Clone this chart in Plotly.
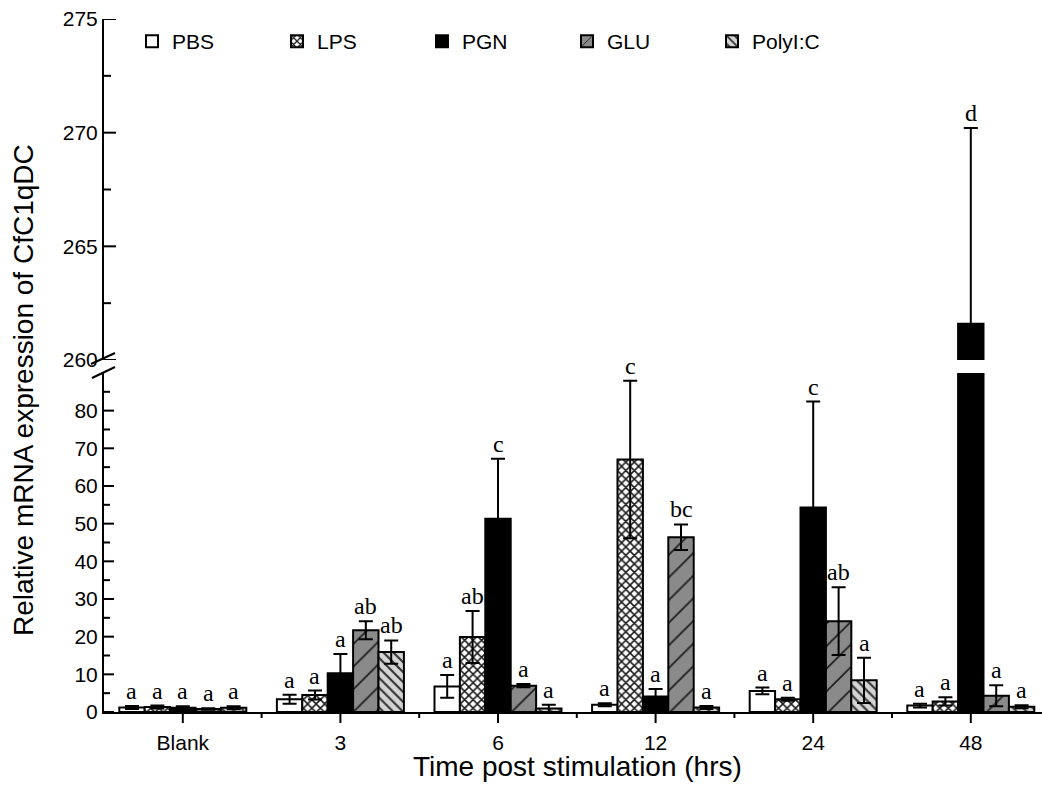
import plotly.graph_objects as go

categories = ["Blank", "3", "6", "12", "24", "48"]
series_names = ["PBS", "LPS", "PGN", "GLU", "PolyI:C"]

pbs = [1.2, 3.4, 6.8, 1.9, 5.6, 1.7]
lps = [1.3, 4.5, 19.9, 67.0, 3.4, 2.8]
pgn = [1.1, 10.3, 51.3, 4.1, 54.3, 261.6]
glu = [0.8, 21.7, 7.0, 46.4, 24.1, 4.3]
polyic = [1.1, 15.9, 0.9, 1.2, 8.4, 1.4]

pbs_err = [0.4, 1.2, 3.0, 0.4, 0.9, 0.5]
lps_err = [0.4, 1.2, 6.9, 20.9, 0.4, 1.1]
pgn_err = [0.4, 5.1, 15.9, 2.0, 28.1, 8.6]
glu_err = [0.2, 2.4, 0.4, 3.4, 9.0, 2.8]
polyic_err = [0.4, 3.1, 1.0, 0.4, 6.0, 0.4]

pbs_letters = ["a", "a", "a", "a", "a", "a"]
lps_letters = ["a", "a", "ab", "c", "a", "a"]
pgn_letters = ["a", "a", "c", "a", "c", "d"]
glu_letters = ["a", "ab", "a", "bc", "ab", "a"]
polyic_letters = ["a", "ab", "a", "a", "a", "a"]

lower_range = [0, 89.99]
upper_range = [260, 275]
lower_major = [0, 10, 20, 30, 40, 50, 60, 70, 80]
lower_minor = [5, 15, 25, 35, 45, 55, 65, 75, 85]
upper_major = [260, 265, 270, 275]
upper_minor = [262.5, 267.5, 272.5]
x_minor = [0.5, 1.5, 2.5, 3.5, 4.5]

values = [pbs, lps, pgn, glu, polyic]
errors = [pbs_err, lps_err, pgn_err, glu_err, polyic_err]
letters = [pbs_letters, lps_letters, pgn_letters, glu_letters, polyic_letters]

styles = [
    dict(color="white", pattern=None),
    dict(color="white", pattern=dict(shape="x", fgcolor="#1a1a1a", bgcolor="white", size=6, solidity=0.45, fillmode="replace")),
    dict(color="black", pattern=None),
    dict(color="#8a8a8a", pattern=dict(shape="/", fgcolor="#1a1a1a", bgcolor="#8a8a8a", size=16, solidity=0.1, fillmode="replace")),
    dict(color="#d4d4d4", pattern=dict(shape="\\", fgcolor="#333333", bgcolor="#d4d4d4", size=7, solidity=0.3, fillmode="replace")),
]

W, H = 1042, 786
ML, MR, MT, MB = 104, 0, 19, 60
PW, PH = W - ML - MR, H - MT - MB
X_PX_PER_UNIT = 157.6

def py(pix):
    return (H - MB - pix) / PH

def px(pix):
    return (pix - ML) / PW

strip_dom = [0, py(712)]
lower_dom = [py(712), py(373)]
upper_dom = [py(360), 1]

x = list(range(len(categories)))
xr_ = [-0.5, -0.5 + PW / X_PX_PER_UNIT]
fig = go.Figure()

for yax, xax, show in [("y", "x", True), ("y2", "x2", False)]:
    for name, v, e, st in zip(series_names, values, errors, styles):
        marker = dict(color=st["color"], line=dict(color="black", width=2))
        if st["pattern"] is not None:
            marker["pattern"] = st["pattern"]
        fig.add_trace(go.Bar(
            x=x, y=v, name=name, marker=marker,
            error_y=dict(type="data", array=e, visible=True, color="black", thickness=2, width=7),
            showlegend=show, legendgroup=name, xaxis=xax, yaxis=yax,
        ))

# tick marks drawn as line traces through the axes' scales
def ytick_trace(vals, length_px, xax, yax):
    xs, ys = [], []
    for v in vals:
        xs += [xr_[0], xr_[0] + length_px / X_PX_PER_UNIT, None]
        ys += [v, v, None]
    return go.Scatter(x=xs, y=ys, mode="lines", line=dict(color="black", width=2),
                      showlegend=False, hoverinfo="skip", xaxis=xax, yaxis=yax)

def xtick_trace(vals, length_px):
    xs, ys = [], []
    for v in vals:
        xs += [v, v, None]
        ys += [0, -length_px, None]
    return go.Scatter(x=xs, y=ys, mode="lines", line=dict(color="black", width=2),
                      showlegend=False, hoverinfo="skip", xaxis="x3", yaxis="y3")

fig.add_trace(ytick_trace(lower_major, 10, "x", "y"))
fig.add_trace(ytick_trace(lower_minor, 6, "x", "y"))
fig.add_trace(ytick_trace(upper_major, 12, "x2", "y2"))
fig.add_trace(ytick_trace(upper_minor, 7, "x2", "y2"))
fig.add_trace(xtick_trace(x, 11))
fig.add_trace(xtick_trace(x_minor, 6))

# significance letters
n = len(series_names)
bargap = 0.194
bw = (1 - bargap) / n
for i, (v, e, lt) in enumerate(zip(values, errors, letters)):
    for j in range(len(categories)):
        top = v[j] + e[j]
        xpos = j - (1 - bargap) / 2 + bw * (i + 0.5)
        if top > lower_range[1]:
            xr, yr = "x2", "y2"
        else:
            xr, yr = "x", "y"
        fig.add_annotation(x=xpos, y=top, xref=xr, yref=yr, text=lt[j],
                           showarrow=False, yanchor="bottom", yshift=0,
                           font=dict(family="Liberation Serif, Times New Roman, serif", size=24, color="black"))

# break marks
for (x0, y0, x1, y1) in [(91, 364, 115, 353), (92, 378, 115, 367)]:
    fig.add_shape(type="line", xref="paper", yref="paper",
                  x0=px(x0), y0=py(y0), x1=px(x1), y1=py(y1),
                  line=dict(color="black", width=2))

fig.add_annotation(text="Relative mRNA expression of CfC1qDC", xref="paper", yref="paper",
                   x=px(23), y=py(390), xanchor="center", yanchor="middle", textangle=-90, showarrow=False,
                   font=dict(family="Liberation Sans, Arial, sans-serif", size=28, color="black"))
fig.add_annotation(text="Time post stimulation (hrs)", xref="paper", yref="paper",
                   x=px(577), y=py(767), xanchor="center", yanchor="middle", showarrow=False,
                   font=dict(family="Liberation Sans, Arial, sans-serif", size=28, color="black"))

hidden = "rgba(0,0,0,0)"
fig.update_layout(
    template="none",
    width=W, height=H,
    margin=dict(l=ML, r=MR, t=MT, b=MB),
    paper_bgcolor="white", plot_bgcolor="white",
    barmode="group", bargap=bargap, bargroupgap=0,
    font=dict(family="Liberation Sans, Arial, sans-serif", size=21, color="black"),
    showlegend=True,
    legend=dict(orientation="h", x=px(132), y=py(21), xanchor="left", yanchor="top",
                font=dict(size=21), entrywidth=100, entrywidthmode="pixels",
                bgcolor="rgba(0,0,0,0)"),
    xaxis=dict(domain=[0, 1], range=xr_, anchor="y", tickmode="array", tickvals=x, ticktext=categories,
               ticks="outside", ticklen=11, tickwidth=2, tickcolor=hidden,
               showline=True, linecolor="black", linewidth=2, showgrid=False, zeroline=False,
               tickfont=dict(size=21)),
    xaxis2=dict(domain=[0, 1], range=xr_, anchor="y2", matches="x", visible=False),
    xaxis3=dict(domain=[0, 1], range=xr_, anchor="y3", matches="x", visible=False),
    yaxis=dict(domain=lower_dom, range=lower_range, anchor="x", tickmode="array", tickvals=lower_major,
               ticks="inside", ticklen=10, tickwidth=2, tickcolor=hidden,
               showline=True, linecolor="black", linewidth=2, showgrid=False, zeroline=False,
               tickfont=dict(size=21)),
    yaxis2=dict(domain=upper_dom, range=upper_range, anchor="x2", tickmode="array", tickvals=upper_major,
                ticks="inside", ticklen=12, tickwidth=2, tickcolor=hidden,
                showline=True, linecolor="black", linewidth=2, showgrid=False, zeroline=False,
                tickfont=dict(size=21)),
    yaxis3=dict(domain=strip_dom, range=[-(H - MB - 712), 0], anchor="x3", visible=False),
)

fig.write_html("out.html")
